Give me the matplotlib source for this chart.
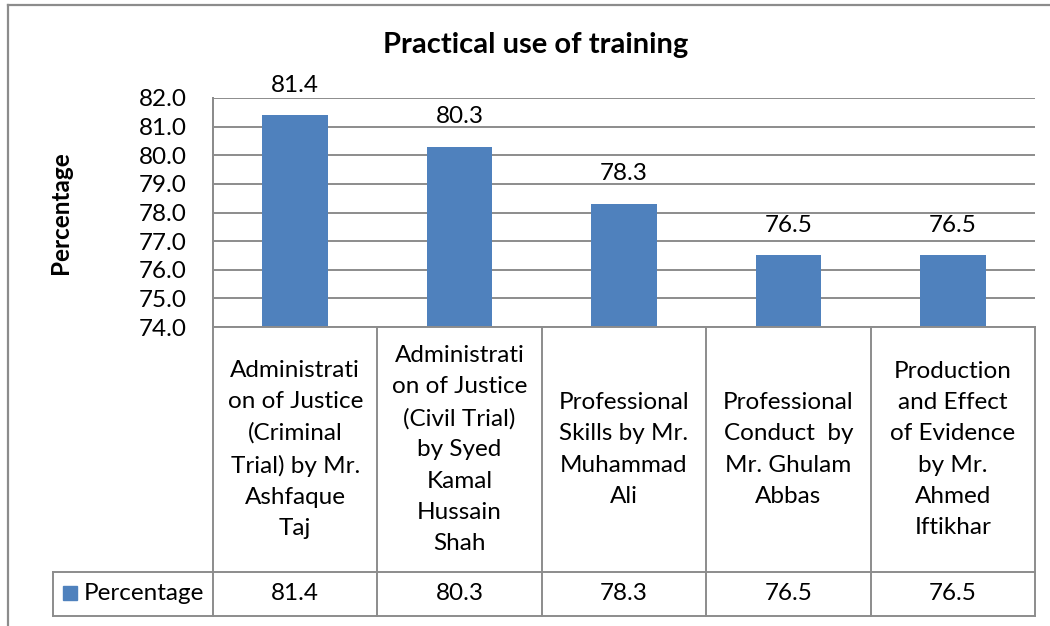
import matplotlib.pyplot as plt
import matplotlib.transforms as mtransforms
from matplotlib.lines import Line2D
from matplotlib.patches import Rectangle

plt.rcParams['font.family'] = ['Lato', 'DejaVu Sans']

# data
categories = [
    "Administrati\non of Justice\n(Criminal\nTrial) by Mr.\nAshfaque\nTaj",
    "Administrati\non of Justice\n(Civil Trial)\nby Syed\nKamal\nHussain\nShah",
    "Professional\nSkills by Mr.\nMuhammad\nAli",
    "Professional\nConduct  by\nMr. Ghulam\nAbbas",
    "Production\nand Effect\nof Evidence\nby Mr.\nAhmed\nIftikhar",
]
values = [81.4, 80.3, 78.3, 76.5, 76.5]
value_labels = ["81.4", "80.3", "78.3", "76.5", "76.5"]
series_name = "Percentage"
yticks = [74, 75, 76, 77, 78, 79, 80, 81, 82]

W, H = 1050, 626
blue = '#4F81BD'
grey = '#8C8C8C'
fs = 17.5

fig = plt.figure(figsize=(W / 100, H / 100), dpi=100)

def fy(py):
    return 1 - py / H

ax = fig.add_axes([213 / W, fy(327), 822 / W, (327 - 98) / H])
x = list(range(len(values)))
ax.bar(x, [v - 74 for v in values], bottom=74, width=0.4, color=blue, zorder=3)
ax.set_xlim(-0.5, len(values) - 0.5)
ax.set_ylim(74, 82)
ax.set_yticks(yticks)
ax.set_yticklabels(['%.1f' % t for t in yticks], fontsize=fs)
ax.tick_params(axis='y', length=0, pad=19)
ax.set_xticks([])
ax.grid(axis='y', color=grey, lw=1.4, zorder=0)
for s in ['top', 'right', 'bottom']:
    ax.spines[s].set_visible(False)
ax.spines['left'].set_color(grey)
ax.spines['left'].set_linewidth(1.4)

for xi, v, lab in zip(x, values, value_labels):
    ax.annotate(lab, (xi, v), xytext=(0, 14), textcoords='offset points',
                ha='center', va='bottom', fontsize=fs, annotation_clip=False)

# data table below the plot, x in data units, y in figure fraction
tr = mtransforms.blended_transform_factory(ax.transData, fig.transFigure)
top, mid, bot = fy(327), fy(572), fy(616)
leg_left = -0.5 - (213 - 53) / 164.4
for i in range(len(values) + 1):
    b = i - 0.5
    y1 = top if i > 0 else fy(98)
    fig.add_artist(Line2D([b, b], [bot, y1], transform=tr, color=grey, lw=1.4))
fig.add_artist(Line2D([-0.5, len(values) - 0.5], [top, top], transform=tr, color=grey, lw=1.4))
for yy in (mid, bot):
    fig.add_artist(Line2D([leg_left, len(values) - 0.5], [yy, yy], transform=tr, color=grey, lw=1.4))
fig.add_artist(Line2D([leg_left, leg_left], [mid, bot], transform=tr, color=grey, lw=1.4))

for xi, cat, lab in zip(x, categories, value_labels):
    fig.text(xi, (top + mid) / 2, cat, transform=tr, ha='center', va='center',
             fontsize=fs, linespacing=1.6)
    fig.text(xi, (mid + bot) / 2, lab, transform=tr, ha='center', va='center', fontsize=fs)

# legend key in table
fig.add_artist(Rectangle((63 / W, fy(600)), 14 / W, 14 / H, transform=fig.transFigure,
                         color=blue))
fig.text(84 / W, fy(593), series_name, ha='left', va='center', fontsize=fs)

# titles
fig.text(536 / W, fy(45), "Practical use of training", ha='center', va='center',
         fontsize=21, fontweight='bold')
fig.text(60 / W, fy(213), "Percentage", ha='center', va='center', rotation=90,
         fontsize=17.5, fontweight='bold')

# outer chart border
fig.add_artist(Line2D([7.5 / W, 7.5 / W], [0, fy(5)], transform=fig.transFigure, color=grey, lw=1.6))
fig.add_artist(Line2D([7.5 / W, 1], [fy(5), fy(5)], transform=fig.transFigure, color=grey, lw=1.6))

fig.savefig('out.png', dpi=100)
